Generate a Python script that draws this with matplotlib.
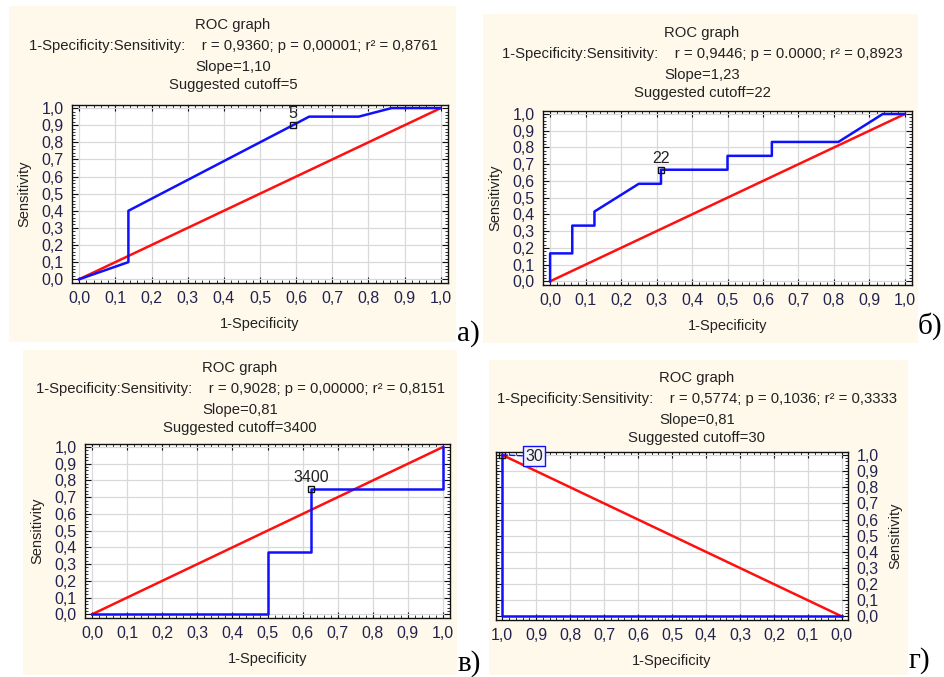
import matplotlib
matplotlib.use("Agg")
import matplotlib.pyplot as plt
from matplotlib.patches import Rectangle
from matplotlib.ticker import MultipleLocator

plt.rcParams['font.family'] = ['Liberation Sans', 'DejaVu Sans']

W, H = 944, 677

# data
ticks = [0.0, 0.1, 0.2, 0.3, 0.4, 0.5, 0.6, 0.7, 0.8, 0.9, 1.0]
tick_labels = ["0,0", "0,1", "0,2", "0,3", "0,4", "0,5", "0,6", "0,7", "0,8", "0,9", "1,0"]

a_fpr = [0, 0.136, 0.136, 0.591, 0.636, 0.773, 0.864, 1.0]
a_tpr = [0, 0.10, 0.40, 0.90, 0.95, 0.95, 1.0, 1.0]
a_cut = (0.591, 0.90, "5")
a_stats = ["r = 0,9360; p = 0,00001; r² = 0,8761", "Slope=1,10", "Suggested cutoff=5"]

b_fpr = [0, 0, 0.0625, 0.0625, 0.125, 0.125, 0.25, 0.3125, 0.3125, 0.5, 0.5, 0.625, 0.625, 0.8125, 0.9375, 1.0]
b_tpr = [0, 0.167, 0.167, 0.333, 0.333, 0.417, 0.583, 0.583, 0.667, 0.667, 0.75, 0.75, 0.833, 0.833, 1.0, 1.0]
b_cut = (0.3125, 0.667, "22")
b_stats = ["r = 0,9446; p = 0.0000; r² = 0,8923", "Slope=1,23", "Suggested cutoff=22"]

c_fpr = [0, 0.5, 0.5, 0.625, 0.625, 1.0, 1.0]
c_tpr = [0, 0, 0.375, 0.375, 0.75, 0.75, 1.0]
c_cut = (0.625, 0.75, "3400")
c_stats = ["r = 0,9028; p = 0,00000; r² = 0,8151", "Slope=0,81", "Suggested cutoff=3400"]

d_fpr = [0, 1.0, 1.0]
d_tpr = [0, 0, 1.0]
d_cut = (1.0, 1.0, "30")
d_stats = ["r = 0,5774; p = 0,1036; r² = 0,3333", "Slope=0,81", "Suggested cutoff=30"]

cream = '#fff9ec'
tick_col = '#22224e'
text_col = '#222222'


def fbox(l, t, r, b):
    return [l / W, 1 - b / H, (r - l) / W, (b - t) / H]


def panel(bg, axbox, title_xy, fpr, tpr, cut, stats, letter, letter_xy, mirrored=False):
    fig.add_artist(Rectangle((bg[0] / W, 1 - bg[3] / H), (bg[2] - bg[0]) / W, (bg[3] - bg[1]) / H,
                             transform=fig.transFigure, facecolor=cream, edgecolor='none', zorder=0))
    ax = fig.add_axes(fbox(*axbox))
    ax.set_facecolor('white')
    ax.plot([0, 1], [0, 1], color='#ff1010', lw=1.8, zorder=3)
    ax.plot(fpr, tpr, color='#1010ff', lw=1.8, zorder=4)
    ax.plot(cut[0], cut[1], marker='s', ms=4.5, mfc='none', mec='#111111', mew=1.0, zorder=5)
    if mirrored:
        ax.annotate(cut[2], (cut[0], cut[1]), xytext=(23, -1), textcoords='offset points',
                    ha='center', va='center', fontsize=11.5, color=text_col,
                    bbox=dict(boxstyle='square,pad=0.15', fc='#f4f4ff', ec='#1010ff', lw=1),
                    arrowprops=dict(arrowstyle='-', color='#1010ff', ls='--', lw=1,
                                    shrinkA=0, shrinkB=0), zorder=6)
    else:
        ax.annotate(cut[2], (cut[0], cut[1]), xytext=(0, 3), textcoords='offset points',
                    ha='center', va='bottom', fontsize=11.5, color=text_col, zorder=6)

    ax.set_ylim(-0.022, 1.018)
    if mirrored:
        ax.set_xlim(1.018, -0.018)
    else:
        ax.set_xlim(-0.02, 1.02)
    ax.set_xticks(ticks)
    ax.set_xticklabels(tick_labels)
    ax.set_yticks(ticks)
    ax.set_yticklabels(tick_labels)
    ax.xaxis.set_minor_locator(MultipleLocator(0.02))
    ax.yaxis.set_minor_locator(MultipleLocator(0.02))
    ax.tick_params(which='both', direction='in', top=True, right=True, colors='#111111',
                   labelcolor=tick_col, labelsize=11.5)
    ax.tick_params(which='major', length=4, width=0.8, pad=6)
    ax.tick_params(which='minor', length=2, width=0.6)
    if mirrored:
        ax.tick_params(labelleft=False, labelright=True)
        ax.yaxis.set_label_position('right')
    ax.grid(True, which='major', color='#d9d9d9', lw=0.9)
    ax.set_axisbelow(True)
    for s in ax.spines.values():
        s.set_linewidth(1.0)
        s.set_color('#111111')
    ax.set_xlabel("1-Specificity", fontsize=10.5, color=text_col, labelpad=8)
    ax.set_ylabel("Sensitivity", fontsize=10.5, color=text_col, labelpad=7)

    tx, ty = title_xy
    lines = ["ROC graph", "1-Specificity:Sensitivity:    " + stats[0], stats[1], stats[2]]
    offs = [0, 21, 42, 60]
    for line, o in zip(lines, offs):
        fig.text(tx / W, 1 - (ty + o) / H, line, ha='center', va='center', fontsize=10.7, color=text_col)

    fig.text(letter_xy[0] / W, 1 - letter_xy[1] / H, letter, ha='left', va='baseline',
             fontsize=21, family='Liberation Serif', color='black')
    return ax


fig = plt.figure(figsize=(W / 100, H / 100), dpi=100)
fig.patch.set_facecolor('white')

panel((9, 6, 456, 342), (72, 105, 448, 283), (233, 25), a_fpr, a_tpr, a_cut, a_stats, "а)", (457, 341))
panel((483, 14, 918, 343), (543, 111, 912, 285), (702, 33), b_fpr, b_tpr, b_cut, b_stats, "б)", (918, 334))
panel((23, 350, 457, 675), (85, 444, 450, 618), (240, 368), c_fpr, c_tpr, c_cut, c_stats, "в)", (458, 671))
panel((489, 360, 908, 675), (496, 452, 848, 620), (697, 378), d_fpr, d_tpr, d_cut, d_stats, "г)", (909, 668),
      mirrored=True)

fig.savefig("out.png", dpi=100)
